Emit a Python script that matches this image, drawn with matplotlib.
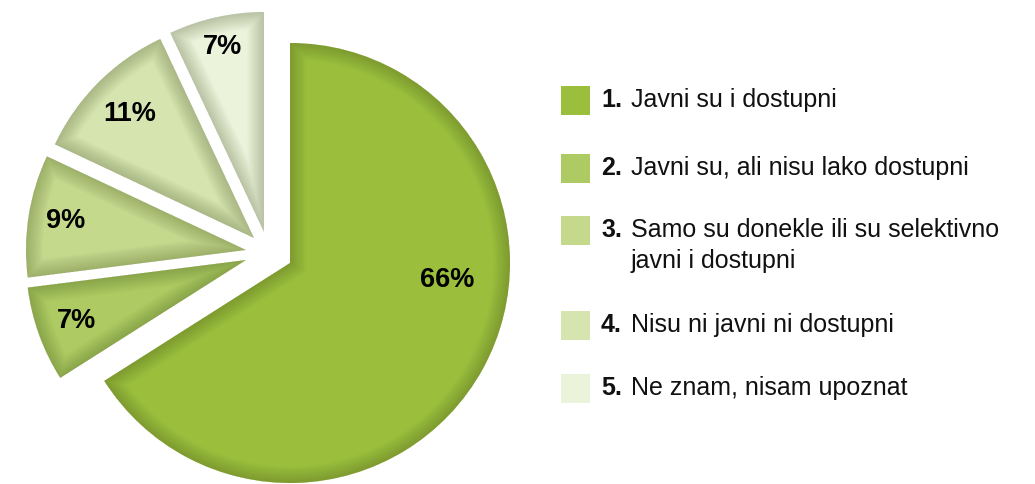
import numpy as np
import matplotlib.pyplot as plt
from matplotlib.patches import Wedge, Rectangle

plt.rcParams['font.family'] = ['Liberation Sans', 'DejaVu Sans']

# survey answers, clockwise from the top
shares = [66, 7, 9, 11, 7]
numbers = ["1.", "2.", "3.", "4.", "5."]
answers = ["Javni su i dostupni",
           "Javni su, ali nisu lako dostupni",
           "Samo su donekle ili su selektivno\njavni i dostupni",
           "Nisu ni javni ni dostupni",
           "Ne znam, nisam upoznat"]
colors = ["#9bbf3c", "#adcb62", "#c4d98c", "#d6e4b0", "#ecf3db"]

W, H = 1035, 484
fig = plt.figure(figsize=(W / 100, H / 100), dpi=100)
ax = fig.add_axes([0, 0, 1, 1])
ax.set_xlim(0, W)
ax.set_ylim(0, H)
ax.set_aspect('equal')
ax.axis('off')

center = np.array([290.0, 221.0])
radius = 220
# shift of each wedge away from the main centre (pixels)
shifts = [(0, 0), (-44, 3), (-44, 13), (-36, 25), (-26, 31)]
label_r = [0.72, 0.82, 0.83, 0.80, 0.86]

angle = 90.0
for i, v in enumerate(shares):
    sweep = 360.0 * v / sum(shares)
    t1, t2 = angle - sweep, angle
    angle = t1
    c = center + np.array(shifts[i])
    w = Wedge(c, radius, t1, t2, facecolor=colors[i], edgecolor='none', zorder=2)
    ax.add_patch(w)
    # soft inner shading along the edges
    for lw in np.linspace(24, 2, 12):
        s = Wedge(c, radius, t1, t2, facecolor='none', edgecolor='#3c4a1a',
                  linewidth=lw, alpha=0.025, zorder=3)
        ax.add_patch(s)
        s.set_clip_path(w)
    mid = (t1 + t2) / 2 if i > 0 else -6
    p = c + label_r[i] * radius * np.array([np.cos(np.radians(mid)), np.sin(np.radians(mid))])
    ax.text(p[0], p[1], f"{v}%", ha='center', va='center', fontsize=19.5,
            fontweight='bold', color='black', zorder=5)

# legend
rows_y = [384, 316, 254, 159, 96]
for i in range(len(shares)):
    y = rows_y[i]
    ax.add_patch(Rectangle((561, y - 14.5), 29, 29, facecolor=colors[i],
                           edgecolor='none'))
    ax.text(601, y, numbers[i], ha='left', va='center', fontsize=18,
            fontweight='bold', color='#111111')
    lines = answers[i].split("\n")
    for k, line in enumerate(lines):
        ax.text(631, y - 31 * k, line, ha='left', va='center', fontsize=18,
                color='#111111')

fig.savefig("out.png", dpi=100)
